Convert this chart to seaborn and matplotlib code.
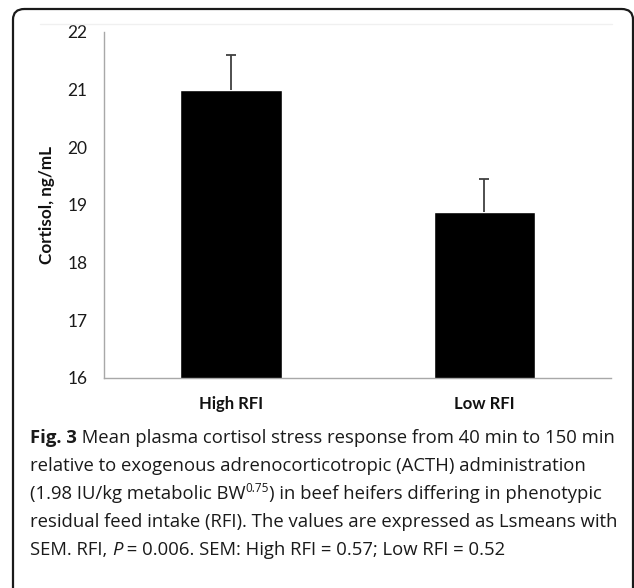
import matplotlib
matplotlib.use("Agg")
import matplotlib.pyplot as plt
import numpy as np
import pandas as pd
import seaborn as sns
from matplotlib.patches import FancyBboxPatch
from matplotlib.lines import Line2D

# datos
grupos = ["High RFI", "Low RFI"]
cortisol = [21.0, 18.87]
error_sup = [0.60, 0.57]
yticks = [16, 17, 18, 19, 20, 21, 22]

df = pd.DataFrame({"grupo": grupos, "cortisol": cortisol})

sns.set_style("white")
plt.rcParams["font.family"] = ["Lato", "DejaVu Sans"]

W, H = 634, 588
fig = plt.figure(figsize=(W / 100, H / 100), dpi=100)
ax = fig.add_axes([104.3 / W, 1 - 377.7 / H, (611 - 104.3) / W, (377.7 - 32) / H])

sns.barplot(data=df, x="grupo", y="cortisol", color="black", width=0.4,
            saturation=1, errorbar=None, ax=ax)
eb = ax.errorbar(np.arange(len(grupos)), cortisol,
                 yerr=[np.zeros(len(grupos)), error_sup], fmt="none",
                 ecolor="#404040", elinewidth=1.3, capsize=3.6, capthick=1.3)
# solo la barra de error superior
eb[1][0].set_visible(False)

ax.set_ylim(16, 22)
ax.set_xlim(-0.5, 1.5)
ax.set_yticks(yticks)
ax.set_yticklabels([str(t) for t in yticks], fontsize=12.5, color="#1a1a1a")
ax.set_xticks([-0.5, 0.5, 1.5])
ax.set_xticklabels([])
ax.set_xticks([0, 1], minor=True)
ax.set_xticklabels(grupos, minor=True, fontsize=12, fontweight="bold", color="#111111")
ax.tick_params(axis="x", which="major", direction="out", length=5, width=1, color="#a8a8a8")
ax.tick_params(axis="x", which="minor", length=0, pad=13)
ax.tick_params(axis="y", direction="out", length=4, width=1, color="#a8a8a8", pad=8)
ax.set_xlabel("")
ax.set_ylabel("Cortisol, ng/mL", fontsize=12.3, fontweight="bold", color="#111111", labelpad=9)
for s in ["top", "right"]:
    ax.spines[s].set_visible(False)
for s in ["left", "bottom"]:
    ax.spines[s].set_color("#a8a8a8")
    ax.spines[s].set_linewidth(1)

# marco redondeado
marco = FancyBboxPatch((13 / W, -0.05), (633 - 13) / W, 1.05 - 9 / H,
                       boxstyle="round,pad=0,rounding_size=0.018",
                       transform=fig.transFigure, fill=False,
                       edgecolor="#1a1a1a", linewidth=1.6, clip_on=False)
fig.patches.append(marco)
fig.add_artist(Line2D([40 / W, 612 / W], [1 - 24 / H, 1 - 24 / H], color="#f0f0f0", lw=1))

# pie de figura
renderer = fig.canvas.get_renderer()
cap_font = ["Open Sans", "DejaVu Sans"]
fs = 13.3


def escribir(partes, x0, y0):
    x = x0
    for texto, kw in partes:
        dy = kw.pop("dy", 0)
        t = fig.text(x / W, 1 - (y0 - dy) / H, texto, fontsize=kw.pop("size", fs),
                     family=cap_font, va="baseline", ha="left", color="#1a1a1a", **kw)
        bb = t.get_window_extent(renderer)
        x += bb.width


lineas = [
    [("Fig. 3", {"fontweight": "bold"}),
     (" Mean plasma cortisol stress response from 40 min to 150 min", {})],
    [("relative to exogenous adrenocorticotropic (ACTH) administration", {})],
    [("(1.98 IU/kg metabolic BW", {}), ("0.75", {"size": 8.5, "dy": 7}),
     (") in beef heifers differing in phenotypic", {})],
    [("residual feed intake (RFI). The values are expressed as Lsmeans with", {})],
    [("SEM. RFI, ", {}), ("P", {"style": "italic"}),
     (" = 0.006. SEM: High RFI = 0.57; Low RFI = 0.52", {})],
]
for i, partes in enumerate(lineas):
    escribir(partes, 30, 443 + 28 * i)

fig.savefig("out.png", dpi=100)
